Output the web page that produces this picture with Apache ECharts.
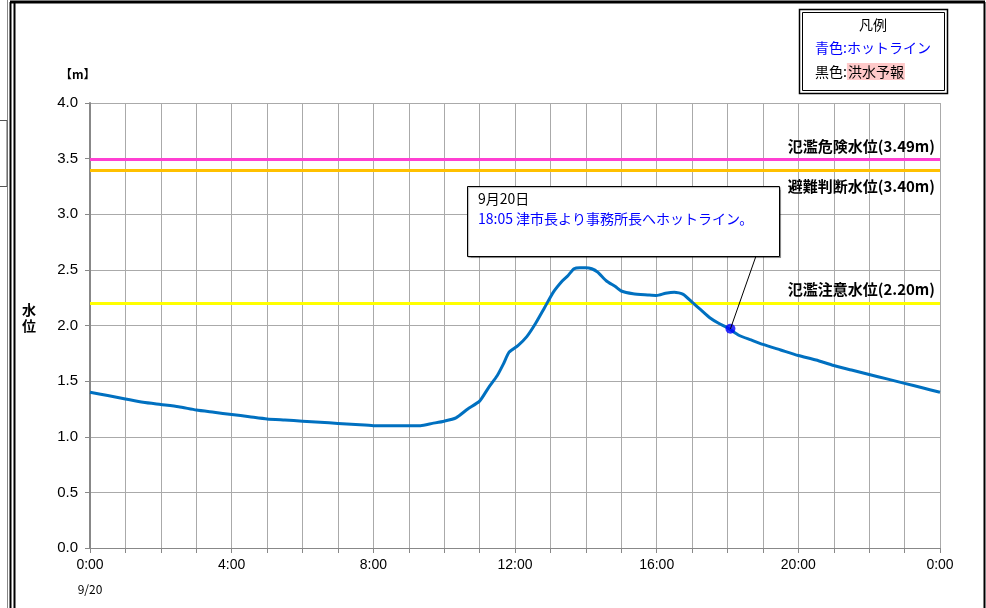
<!DOCTYPE html>
<html><head><meta charset="utf-8">
<script src="https://cdn.jsdelivr.net/npm/echarts@6/dist/echarts.min.js"></script>
<style>html,body{margin:0;padding:0;background:#fff;}#c{width:986px;height:608px;}</style>
</head><body><div id="c"></div>
<script>
// time of day (H:MM) and water level (m)
const times = ["0:00","0:30","1:00","1:30","2:00","2:30","3:00","3:30","4:00","4:30","5:00","5:30","6:00","6:30","7:00","7:30","8:00","8:30","9:00","9:20","9:40","10:00","10:20","10:40","11:00","11:15","11:30","11:40","11:50","12:05","12:20","12:35","12:50","13:05","13:20","13:30","13:40","13:50","14:00","14:10","14:20","14:35","14:50","15:00","15:20","15:45","16:00","16:15","16:30","16:45","17:00","17:15","17:30","17:45","18:00","18:20","18:40","19:00","19:30","20:00","20:30","21:00","21:30","22:00","22:30","23:00","23:30","24:00"];
const levels = [1.40,1.37,1.34,1.31,1.29,1.27,1.24,1.22,1.20,1.18,1.16,1.15,1.14,1.13,1.12,1.11,1.10,1.10,1.10,1.10,1.12,1.14,1.17,1.25,1.32,1.44,1.55,1.65,1.76,1.82,1.90,2.02,2.16,2.30,2.40,2.45,2.51,2.52,2.52,2.51,2.48,2.40,2.35,2.31,2.285,2.275,2.27,2.29,2.30,2.28,2.21,2.14,2.07,2.02,1.98,1.91,1.87,1.83,1.78,1.73,1.69,1.64,1.60,1.56,1.52,1.48,1.44,1.40];
const thresholdNames = ["氾濫危険水位(3.49m)","避難判断水位(3.40m)","氾濫注意水位(2.20m)"];
const thresholdValues = [3.49,3.40,2.20];
const thresholdColors = ["#ff3fd2","#ffc000","#ffff00"];
const eventTime = "18:05";
const eventLevel = 1.97;
const eventDate = "9月20日";
const eventText = "18:05 津市長より事務所長へホットライン。";
const yTicks = [0,0.5,1.0,1.5,2.0,2.5,3.0,3.5,4.0];
const xLabelHours = [0,4,8,12,16,20,24];

function toH(s){const p=s.split(':');return +p[0]+ +p[1]/60;}
const seriesData = times.map((t,i)=>[toH(t),levels[i]]);
const chart = echarts.init(document.getElementById('c'),null,{renderer:'canvas'});
const numFont = '"Liberation Sans", Arial, sans-serif';
const jpFont = '"Noto Sans CJK JP", sans-serif';

const thrSeries = thresholdValues.map((v,i)=>({
  type:'line', data:[], silent:true,
  markLine:{symbol:'none', silent:true, animation:false,
    lineStyle:{color:thresholdColors[i], width:3, type:'solid'},
    label:{show:true, formatter:thresholdNames[i], position: i===1?'insideEndBottom':'insideEndTop',
      distance: i===1?[5,9]:[5,6], color:'#000', fontWeight:'bold', fontSize:15, fontFamily:jpFont},
    data:[{yAxis:v}]}
}));

chart.setOption({
  animation:false,
  grid:{left:90,right:46,top:103,bottom:60,containLabel:false},
  xAxis:{type:'value',min:0,max:24,interval:1,
    axisLine:{show:true,onZero:false,lineStyle:{color:'#888',width:1}},
    axisTick:{show:true,length:5,inside:false,lineStyle:{color:'#888'}},
    splitLine:{show:true,lineStyle:{color:'#aaa',width:1}},
    axisLabel:{margin:10,color:'#000',fontSize:14,fontFamily:numFont,
      formatter:v=> xLabelHours.indexOf(v)>=0 ? (v%24)+':00' : ''}},
  yAxis:{type:'value',min:0,max:4,interval:0.5,
    axisLine:{show:true,lineStyle:{color:'#888',width:2}},
    axisTick:{show:true,length:5,lineStyle:{color:'#888'}},
    splitLine:{show:true,lineStyle:{color:'#aaa',width:1}},
    axisLabel:{margin:12,color:'#000',fontSize:15,fontFamily:numFont,formatter:v=>v.toFixed(1)}},
  series:[...thrSeries,
    {type:'line',data:seriesData,showSymbol:false,smooth:0.2,
      lineStyle:{color:'#0070c0',width:3},z:5},
    {type:'scatter',data:[[toH(eventTime),eventLevel]],symbolSize:10,
      itemStyle:{color:'#0000ff'},z:6}
  ]
});

const p = chart.convertToPixel({gridIndex:0},[toH(eventTime),eventLevel]);
chart.setOption({graphic:[
  // outer frame
  {type:'line',shape:{x1:10,y1:2,x2:985,y2:2},style:{stroke:'#000',lineWidth:3}},
  {type:'line',shape:{x1:10.5,y1:2,x2:10.5,y2:608},style:{stroke:'#000',lineWidth:2}},
  {type:'line',shape:{x1:14.5,y1:2,x2:14.5,y2:608},style:{stroke:'#000',lineWidth:2}},
  {type:'line',shape:{x1:984.5,y1:2,x2:984.5,y2:608},style:{stroke:'#000',lineWidth:2}},
  {type:'line',shape:{x1:7.5,y1:0,x2:7.5,y2:608},style:{stroke:'#888',lineWidth:1}},
  {type:'rect',shape:{x:-1,y:120.5,width:8,height:66},style:{fill:'#fff',stroke:'#555',lineWidth:1}},
  // axis captions
  {type:'text',left:60,top:68,style:{text:'【m】',font:'bold 12px '+jpFont,fill:'#000'}},
  {type:'text',left:22,top:302,style:{text:'水\n位',font:'bold 14px '+jpFont,fill:'#000',lineHeight:16}},
  {type:'text',x:90,y:583,style:{text:'9/20',font:'12px '+jpFont,fill:'#000',align:'center'}},
  // legend box
  {type:'rect',shape:{x:799.5,y:9.5,width:148,height:84},style:{fill:'#fff',stroke:'#000',lineWidth:1.5},z:10},
  {type:'rect',shape:{x:802.5,y:12.5,width:142,height:78},style:{fill:'none',stroke:'#000',lineWidth:1},z:10},
  {type:'text',x:873,y:18,z:11,style:{text:'凡例',font:'14px '+jpFont,fill:'#000',align:'center'}},
  {type:'text',x:815,y:41,z:11,style:{text:'青色:ホットライン',font:'14px '+jpFont,fill:'#0000ff'}},
  {type:'text',x:815,y:63,z:11,style:{text:'{a|黒色:}{b|洪水予報}',
    rich:{a:{font:'14px '+jpFont,fill:'#000'},b:{font:'14px '+jpFont,fill:'#000',backgroundColor:'#ffc9c9',padding:[2,1,1,1]}}}},
  // annotation
  {type:'line',z:11,shape:{x1:p[0],y1:p[1],x2:756,y2:256},style:{stroke:'#000',lineWidth:1}},
  {type:'rect',z:10,shape:{x:467.5,y:186.5,width:312,height:70},style:{fill:'#fff',stroke:'#000',lineWidth:1,shadowColor:'rgba(0,0,0,0.3)',shadowOffsetX:1,shadowOffsetY:1,shadowBlur:1}},
  {type:'text',z:11,x:478,y:192,style:{text:eventDate,font:'14px '+jpFont,fill:'#000'}},
  {type:'text',z:11,x:478,y:212,style:{text:eventText,font:'14px '+jpFont,fill:'#0000ff'}}
]});
</script></body></html>
